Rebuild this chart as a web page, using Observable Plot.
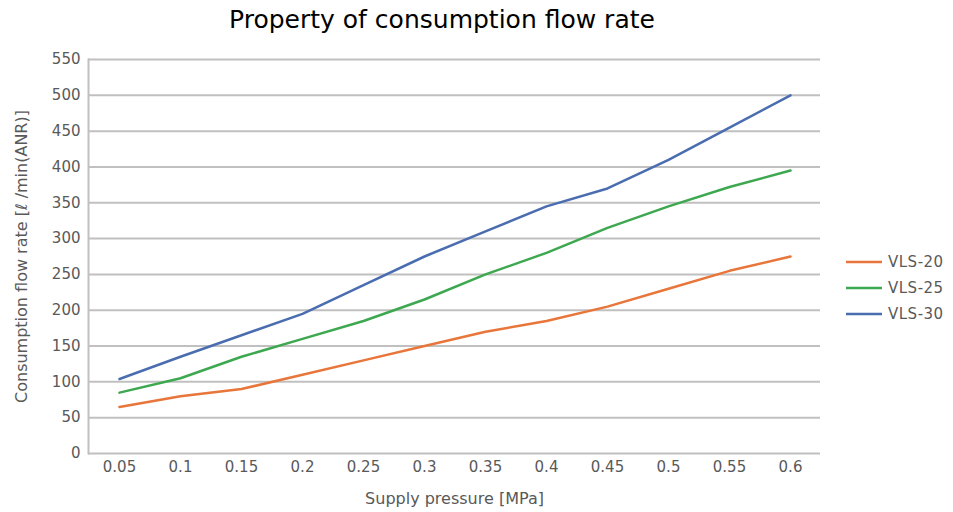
<!DOCTYPE html>
<html>
<head>
<meta charset="utf-8">
<script src="https://cdn.jsdelivr.net/npm/d3@7"></script>
<script src="https://cdn.jsdelivr.net/npm/@observablehq/plot@0.6"></script>
<style>
  body { margin: 0; background: #fff; font-family: "DejaVu Sans", sans-serif; }
  #wrap { position: relative; width: 953px; height: 512px; }
  #title { position: absolute; left: 442px; top: 5px; transform: translateX(-50%); font-size: 25px; color: #000; white-space: nowrap; }
  #chart { position: absolute; left: 0; top: 45px; }
  #legend { position: absolute; left: 846px; top: 249px; font-size: 15px; color: #595959; letter-spacing: 0.5px; }
  .item { display: flex; align-items: center; height: 26px; }
  .item svg { margin-right: 6px; }
</style>
</head>
<body>
<div id="wrap">
  <div id="title"></div>
  <div id="chart"></div>
  <div id="legend"></div>
</div>
<script>
const titleText = "Property of consumption flow rate";
const xLabel = "Supply pressure [MPa]";
const yLabel = "Consumption flow rate [ℓ /min(ANR)]";
const pressures = ["0.05","0.1","0.15","0.2","0.25","0.3","0.35","0.4","0.45","0.5","0.55","0.6"];
const seriesNames = ["VLS-20","VLS-25","VLS-30"];
const vls20 = [65, 80, 90, 110, 130, 150, 170, 185, 205, 230, 255, 275];
const vls25 = [85, 105, 135, 160, 185, 215, 250, 280, 315, 345, 372, 395];
const vls30 = [104, 135, 165, 195, 235, 275, 310, 345, 370, 410, 455, 500];
const colors = ["#E8763A", "#3DA84F", "#4A6DB0"];
const yTicks = d3.range(0, 551, 50);

document.getElementById("title").textContent = titleText;

const seriesVals = [vls20, vls25, vls30];
const data = [];
seriesNames.forEach((s, i) => pressures.forEach((p, j) => data.push({series: s, p, v: seriesVals[i][j]})));

const plot = Plot.plot({
  width: 953,
  height: 467,
  marginLeft: 88,
  marginRight: 133,
  marginTop: 14,
  marginBottom: 59,
  style: {fontFamily: '"DejaVu Sans", sans-serif', fontSize: "15px", color: "#595959", background: "#fff"},
  x: {type: "point", domain: pressures, padding: 0.5},
  y: {domain: [0, 550]},
  color: {domain: seriesNames, range: colors},
  marks: [
    Plot.gridY(yTicks, {stroke: "#c0c0c0", strokeOpacity: 1, strokeWidth: 2}),
    Plot.frame({anchor: "left", stroke: "#c0c0c0", strokeWidth: 2}),
    Plot.axisY(yTicks, {tickSize: 0, tickPadding: 8, fontSize: 15, fill: "#595959", label: null}),
    Plot.axisX({tickSize: 0, tickPadding: 8, fontSize: 15, fill: "#595959", label: null}),
    Plot.text([yLabel], {frameAnchor: "left", dx: -67, rotate: -90, textAnchor: "middle", fontSize: 16, fill: "#595959", text: d => d}),
    Plot.text([xLabel], {frameAnchor: "bottom", dy: 50, fontSize: 16, fill: "#595959", text: d => d}),
    Plot.line(data, {x: "p", y: "v", z: "series", stroke: "series", strokeWidth: 2.5})
  ]
});
document.getElementById("chart").appendChild(plot);

const legend = document.getElementById("legend");
seriesNames.forEach((s, i) => {
  const div = document.createElement("div");
  div.className = "item";
  div.innerHTML = `<svg width="36" height="4"><line x1="0" x2="36" y1="2" y2="2" stroke="${colors[i]}" stroke-width="2.5"/></svg><span>${s}</span>`;
  legend.appendChild(div);
});
</script>
</body>
</html>
